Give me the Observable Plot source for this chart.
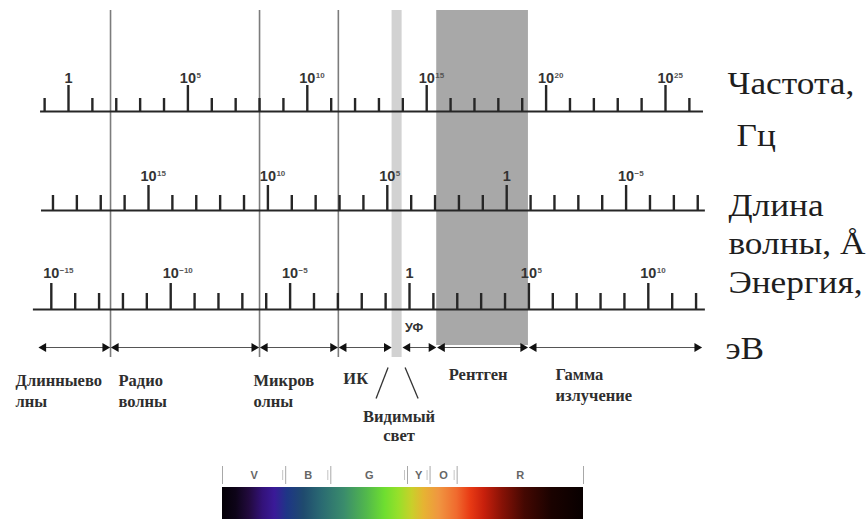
<!DOCTYPE html>
<html>
<head>
<meta charset="utf-8">
<script src="https://cdn.jsdelivr.net/npm/d3@7"></script>
<script src="https://cdn.jsdelivr.net/npm/@observablehq/plot@0.6"></script>
<style>
  html, body { margin: 0; padding: 0; background: #fff; }
  #chart { width: 866px; }
  #chart svg { display: block; }
</style>
</head>
<body>
<div id="chart"></div>
<script>
// ---------------- DATA ----------------
// Frequency axis (Hz): exponent of every tick, majors and their labels
const freqExponents = [-1,0,1,2,3,4,5,6,7,8,9,10,11,12,13,14,15,16,17,18,19,20,21,22,23,24,25,26];
const freqMajor = [0,5,10,15,20,25];
const freqTickLabels = ["1","10^5","10^10","10^15","10^20","10^25"];

// Wavelength axis (Å)
const wavelengthExponents = [19,18,17,16,15,14,13,12,11,10,9,8,7,6,5,4,3,2,1,0,-1,-2,-3,-4,-5,-6,-7,-8];
const wavelengthMajor = [15,10,5,0,-5];
const wavelengthTickLabels = ["10^15","10^10","10^5","1","10^-5"];

// Energy axis (eV)
const energyExponents = [-15,-14,-13,-12,-11,-10,-9,-8,-7,-6,-5,-4,-3,-2,-1,0,1,2,3,4,5,6,7,8,9,10,11,12];
const energyMajor = [-15,-10,-5,0,5,10];
const energyTickLabels = ["10^-15","10^-10","10^-5","1","10^5","10^10"];

// Alignment of the other two axes with the frequency axis (log10 f of their exponent 0)
const wavelengthZeroAt = 18.35;   // log10 f where λ = 1 Å
const energyZeroAt = 14.28;       // log10 f where E = 1 eV

// Region borders, in log10 f
const boundaries = [1.76, 8.0, 11.3];
const visibleBand = [13.55, 13.97];
const xrayBand = [15.42, 19.26];
const scaleEnds = [-1.17, 26.55];

// Region names
const regionNames = ["Длинныево\nлны", "Радио\nволны", "Микров\nолны", "ИК", "Видимый\nсвет", "УФ", "Рентген", "Гамма\nизлучение"];

// Axis titles
const axisTitles = [["Частота,", "Гц"], ["Длина", "волны, Å"], ["Энергия,", "эВ"]];

// Visible spectrum strip (nm)
const colourNames = ["V","B","G","Y","O","R"];
const colourEdges = [380,450,500,585,610,640,780];
const spectrumStopNm = [380, 395, 410, 425, 438, 452, 470, 490, 515, 540, 560, 575, 590, 603, 620, 640, 655, 670, 690, 715, 745, 780];
const spectrumStopColour = ["#040006","#0d0418","#220a3e","#33127a","#3a1a98","#1e3686","#1f4a6e","#2a6a72","#3a8c6c","#52b84c","#6ede30","#96e02a","#c8d02a","#e6b432","#f09640","#f06a2e","#e83a14","#c8200c","#881206","#440802","#1a0200","#080000"];

// ---------------- LAYOUT ----------------
const W = 866, H = 450;
const PX = 23.88;          // pixels per decade
const X0 = 68;             // pixel of log10 f = 0
const px = p => p / PX;    // pixel offset -> decades

const ink = "#262626";
const serif = "'Liberation Serif', 'Times New Roman', serif";
const sans = "'Liberation Sans', Arial, sans-serif";

const axes = [
  {exps: freqExponents, major: freqMajor, labels: freqTickLabels, toF: e => e,
   base: 111, majTop: 85, minTop: 98, labY: 82, from: scaleEnds[0], to: 26.59},
  {exps: wavelengthExponents, major: wavelengthMajor, labels: wavelengthTickLabels, toF: e => wavelengthZeroAt - e,
   base: 210, majTop: 185, minTop: 195, labY: 180, from: -1.13, to: 26.67},
  {exps: energyExponents, major: energyMajor, labels: energyTickLabels, toF: e => energyZeroAt + e,
   base: 309, majTop: 283, minTop: 293, labY: 277, from: -1.47, to: 26.67}
];

const ticks = axes.flatMap(a => a.exps.map(e => ({
  x: a.toF(e), y1: a.major.includes(e) ? a.majTop : a.minTop, y2: a.base
})));
const tickLabels = axes.flatMap(a => a.major.map((e, i) => {
  const [b, sup] = a.labels[i].split("^");
  return {x: a.toF(e), y: a.labY, base: b, sup: sup ? sup.replace("-", "−") : ""};
}));

// arrows between region borders
const gap = px(2.5);
const edges = [[scaleEnds[0], boundaries[0]], [boundaries[0], boundaries[1]], [boundaries[1], boundaries[2]],
  [boundaries[2], visibleBand[0]], [visibleBand[1], xrayBand[0]], [xrayBand[0], xrayBand[1]], [xrayBand[1], scaleEnds[1]]];
const arrows = edges.map(([a, b], i) => ({x1: i === 0 ? a : a + gap, x2: b - gap}));
const arrowY = 347;

// region label placement (anchored to region borders, pixel offsets)
const regionLabels = [
  {text: regionNames[0], x: scaleEnds[0] + px(-25), y: 371, anchor: "start"},
  {text: regionNames[1], x: boundaries[0] + px(8), y: 371, anchor: "start"},
  {text: regionNames[2], x: boundaries[1] + px(-6), y: 371, anchor: "start"},
  {text: regionNames[3], x: boundaries[2] + px(5), y: 369, anchor: "start"},
  {text: regionNames[4], x: (visibleBand[0] + visibleBand[1]) / 2 + px(2), y: 409, anchor: "middle"},
  {text: regionNames[6], x: xrayBand[0] + px(12), y: 365, anchor: "start"},
  {text: regionNames[7], x: xrayBand[1] + px(27), y: 365, anchor: "start"}
];

const titleRows = [
  {text: axisTitles[0][0], x: axes[0].to + px(24), y: 93},
  {text: axisTitles[0][1], x: axes[0].to + px(33), y: 145},
  {text: axisTitles[1][0], x: axes[1].to + px(23), y: 215},
  {text: axisTitles[1][1], x: axes[1].to + px(23), y: 253},
  {text: axisTitles[2][0], x: axes[2].to + px(23), y: 292},
  {text: axisTitles[2][1], x: axes[2].to + px(20), y: 358}
];

const slashes = [
  {x1: visibleBand[0] - px(4), x2: visibleBand[0] - px(16), y1: 367, y2: 398},
  {x1: visibleBand[1] + px(3), x2: visibleBand[1] + px(16), y1: 367, y2: 398}
];

const main = Plot.plot({
  width: W, height: H,
  marginLeft: 0, marginRight: 0, marginTop: 0, marginBottom: 0,
  x: {domain: [-X0 / PX, (W - X0) / PX], range: [0, W], axis: null},
  y: {domain: [0, H], range: [0, H], axis: null},
  style: {background: "#fff"},
  marks: [
    // bands
    Plot.rect([visibleBand], {x1: d => d[0], x2: d => d[1], y1: () => 10, y2: () => 357, fill: "#d2d2d2"}),
    Plot.rect([xrayBand], {x1: d => d[0], x2: d => d[1], y1: () => 10, y2: () => 345, fill: "#a8a8a8"}),
    // borders
    Plot.ruleX(boundaries, {y1: () => 10, y2: () => 357, stroke: "#7c7c7c", strokeWidth: 1.6}),
    // axis lines
    Plot.ruleY(axes, {y: "base", x1: "from", x2: "to", stroke: ink, strokeWidth: 2}),
    // ticks
    Plot.ruleX(ticks, {x: "x", y1: "y1", y2: "y2", stroke: ink, strokeWidth: 2.4}),
    // tick labels
    Plot.text(tickLabels, {x: "x", y: "y", text: "base", textAnchor: "middle", lineAnchor: "bottom",
      fontFamily: sans, fontWeight: "bold", fontSize: 14.5, fill: "#333"}),
    Plot.text(tickLabels, {x: "x", y: "y", text: "sup", textAnchor: "start", lineAnchor: "bottom",
      dx: 8.5, dy: -5, fontFamily: sans, fontWeight: "bold", fontSize: 8, fill: "#555"}),
    // axis titles
    Plot.text(titleRows, {x: "x", y: "y", text: "text", textAnchor: "start", lineAnchor: "bottom",
      fontFamily: serif, fontSize: 31, fill: "#1e1e1e"}),
    // arrows
    Plot.link(arrows, {x1: "x1", x2: "x2", y1: () => arrowY, y2: () => arrowY, stroke: "#555", strokeWidth: 1}),
    Plot.dot(arrows, {x: "x1", y: () => arrowY, symbol: "triangle", rotate: -90, r: 3.3, dx: 3, fill: "#111", stroke: null}),
    Plot.dot(arrows, {x: "x2", y: () => arrowY, symbol: "triangle", rotate: 90, r: 3.3, dx: -3, fill: "#111", stroke: null}),
    // UV label
    Plot.text([regionNames[5]], {x: () => visibleBand[1], y: () => 331, dx: 3, text: d => d, textAnchor: "start",
      lineAnchor: "bottom", fontFamily: sans, fontWeight: "bold", fontSize: 12.5, fill: "#333"}),
    // region labels
    Plot.text(regionLabels.filter(d => d.anchor === "start"), {x: "x", y: "y", text: "text", textAnchor: "start",
      lineAnchor: "top", lineHeight: 1.25, fontFamily: serif, fontWeight: "bold", fontSize: 16.5, fill: "#2e2e2e"}),
    Plot.text(regionLabels.filter(d => d.anchor === "middle"), {x: "x", y: "y", text: "text", textAnchor: "middle",
      lineAnchor: "top", lineHeight: 1.1, fontFamily: serif, fontWeight: "bold", fontSize: 16.5, fill: "#2e2e2e"}),
    // slashes to visible light
    Plot.link(slashes, {x1: "x1", x2: "x2", y1: "y1", y2: "y2", stroke: "#333", strokeWidth: 1.3})
  ]
});
document.getElementById("chart").appendChild(main);

// the reference's axis titles are set slightly wider than the font: stretch them horizontally
const titleSet = new Set(axisTitles.flat());
d3.select(main).selectAll("text").each(function () {
  if (titleSet.has(this.textContent)) {
    const w = this.getComputedTextLength();
    this.setAttribute("textLength", (w * 1.14).toFixed(1));
    this.setAttribute("lengthAdjust", "spacingAndGlyphs");
  }
});

// ---------------- SPECTRUM STRIP ----------------
const SH = 69;
const K = 0.9025;        // px per nm
const S0 = 222;          // pixel of 380 nm
const lo = colourEdges[0], hi = colourEdges[colourEdges.length - 1];
const bands = colourNames.map((n, i) => ({name: n, a: colourEdges[i], b: colourEdges[i + 1]}));
const stops = spectrumStopNm.map((nm, i) => ({offset: (nm - lo) / (hi - lo), colour: spectrumStopColour[i]}));

const gradientDefs = () => {
  const defs = d3.create("svg:defs");
  const g = defs.append("linearGradient").attr("id", "spectrumGradient")
    .attr("x1", "0%").attr("x2", "100%").attr("y1", "0%").attr("y2", "0%");
  g.selectAll("stop").data(stops).join("stop")
    .attr("offset", d => d.offset).attr("stop-color", d => d.colour);
  return defs.node();
};

const strip = Plot.plot({
  width: W, height: SH,
  marginLeft: 0, marginRight: 0, marginTop: 0, marginBottom: 0,
  x: {domain: [lo - S0 / K, lo + (W - S0) / K], range: [0, W], axis: null},
  y: {domain: [0, SH], range: [0, SH], axis: null},
  style: {background: "#fff"},
  marks: [
    gradientDefs,
    Plot.rect([{a: lo, b: hi}], {x1: "a", x2: "b", y1: () => 37, y2: () => SH, fill: "url(#spectrumGradient)"}),
    Plot.ruleX(colourEdges, {y1: () => 16, y2: () => 34, stroke: "#a8a8a8", strokeWidth: 1}),
    Plot.ruleX(colourEdges.slice(1, -1), {y1: () => 20, y2: () => 30, dx: -3, stroke: "#c4c4c4", strokeWidth: 1}),
    Plot.text(bands, {x: d => (d.a + d.b) / 2, y: () => 25, text: "name", textAnchor: "middle",
      fontFamily: sans, fontWeight: "bold", fontSize: 11, fill: "#666"})
  ]
});
document.getElementById("chart").appendChild(strip);
</script>
</body>
</html>
